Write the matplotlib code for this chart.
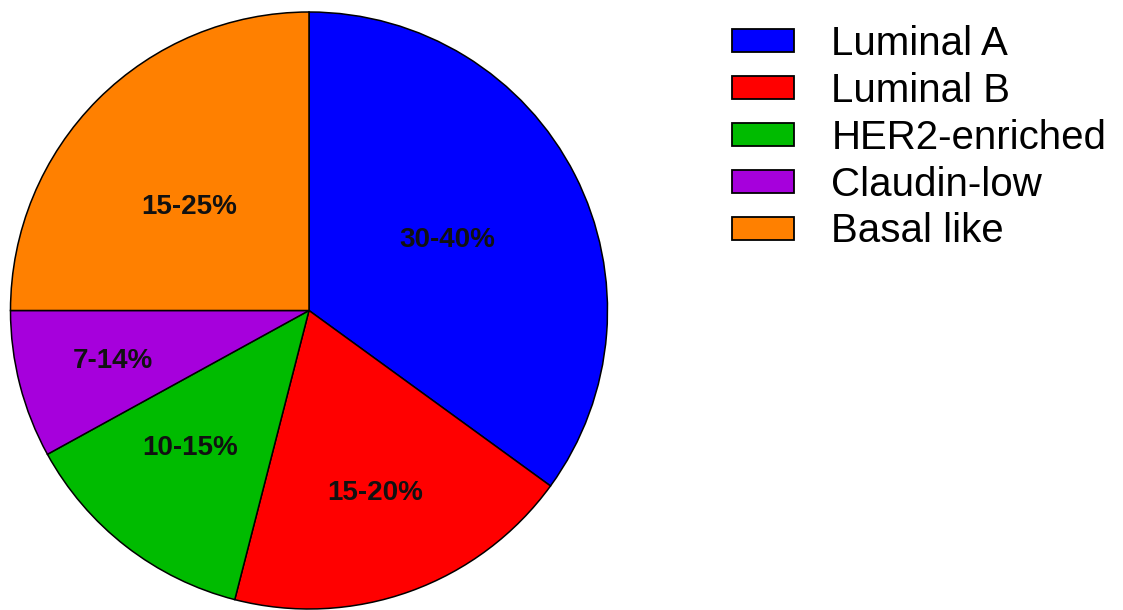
import matplotlib.pyplot as plt
from matplotlib.patches import Patch
import numpy as np

plt.rcParams['font.family'] = ['Liberation Sans', 'DejaVu Sans']

subtypes = ['Luminal A', 'Luminal B', 'HER2-enriched', 'Claudin-low', 'Basal like']
shares = [35, 19, 13, 8, 25]
ranges = ['30-40%', '15-20%', '10-15%', '7-14%', '15-25%']
colors = ['#0000FF', '#FF0000', '#00BB00', '#A600DC', '#FF8000']

W, H = 1123, 610
fig = plt.figure(figsize=(W / 100, H / 100), dpi=100)
ax = fig.add_axes([10 / W, 1 / H, 598 / W, 597 / H])

wedges, _ = ax.pie(shares, colors=colors, startangle=90, counterclock=False,
                   radius=1.0,
                   wedgeprops=dict(edgecolor='black', linewidth=1.1))

# range labels near each wedge's mid angle (radius, angle nudge in degrees)
label_r = [0.52, 0.65, 0.61, 0.68, 0.53]
label_dt = [0, 0, -3, 0, 4]
for w, txt, r, dt in zip(wedges, ranges, label_r, label_dt):
    mid = np.deg2rad((w.theta1 + w.theta2) / 2 + dt)
    ax.text(r * np.cos(mid), r * np.sin(mid), txt, ha='center', va='center',
            fontsize=20, fontweight='bold', color='#111111')

ax.set_xlim(-1.0, 1.0)
ax.set_ylim(-1.0, 1.0)
ax.set_aspect('equal')
ax.axis('off')

handles = [Patch(facecolor=c, edgecolor='black', linewidth=1.3) for c in colors]
fig.legend(handles, subtypes, loc='upper left',
           bbox_to_anchor=(732 / W, 1 - 25 / H),
           frameon=False, fontsize=29, borderpad=0, borderaxespad=0,
           handlelength=1.55, handleheight=0.5, handletextpad=0.92,
           labelspacing=0.22)

plt.savefig('out.png', dpi=100)
